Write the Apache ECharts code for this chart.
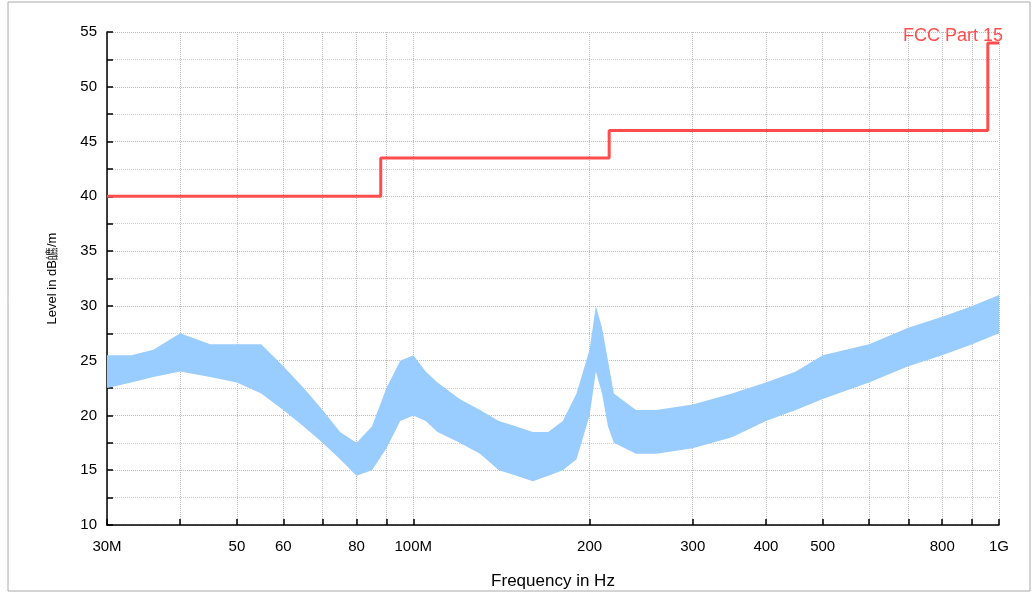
<!DOCTYPE html>
<html><head><meta charset="utf-8">
<script src="https://cdn.jsdelivr.net/npm/echarts@6/dist/echarts.min.js"></script>
<style>html,body{margin:0;padding:0;background:#fff}#c{width:1032px;height:595px}</style>
</head><body><div id="c"></div>
<script>
// trace envelope (MHz, low dB, high dB)
const freqs = [30,33,36,40,45,50,55,60,65,70,75,80,85,90,95,100,105,110,120,130,140,150,160,170,180,190,200,205,210,215,220,240,260,300,350,400,450,500,600,700,800,900,1000];
const lows  = [22.5,23,23.5,24,23.5,23,22,20.5,19,17.5,16,14.5,15,17,19.5,20,19.5,18.5,17.5,16.5,15,14.5,14,14.5,15,16,20,24,22,19,17.5,16.5,16.5,17,18,19.5,20.5,21.5,23,24.5,25.5,26.5,27.5];
const highs = [25.5,25.5,26,27.5,26.5,26.5,26.5,24.5,22.5,20.5,18.5,17.5,19,22.5,25,25.5,24,23,21.5,20.5,19.5,19,18.5,18.5,19.5,22,26,30,28,25,22,20.5,20.5,21,22,23,24,25.5,26.5,28,29,30,31];
// FCC Part 15 limit steps
const limitFreqs = [30,88,216,957,1000];
const limitLevels = [40,43.5,46,54,54];
const tickFreqs = [30,40,50,60,70,80,90,100,200,300,400,500,600,700,800,900,1000];
const labelFreqs = [30,50,60,80,100,200,300,400,500,800,1000];

const M = 1e6;
const chart = echarts.init(document.getElementById('c'));
chart.setOption({
  animation: false,
  grid: {left: 107, right: 33, top: 32, bottom: 65},
  title: {text: 'FCC Part 15', right: 24, top: 22, textStyle: {color: '#ff4d4d', fontSize: 18, fontWeight: 'normal', fontFamily: 'Liberation Sans'}},
  graphic: [{type: 'rect', shape: {x: 8, y: 2, width: 1022, height: 589}, style: {fill: 'none', stroke: '#aaa', lineWidth: 1}, silent: true}],
  xAxis: {
    type: 'log', logBase: 10, min: 30 * M, max: 1000 * M,
    name: 'Frequency in Hz', nameLocation: 'middle', nameGap: 48,
    nameTextStyle: {fontSize: 17, color: '#000', fontFamily: 'Liberation Sans'},
    axisLine: {lineStyle: {color: '#000', width: 1.5}},
    axisTick: {customValues: tickFreqs.map(f => f * M), length: 6, inside: true, lineStyle: {color: '#000', width: 1.5}},
    axisLabel: {customValues: labelFreqs.map(f => f * M), color: '#000', fontSize: 15, fontFamily: 'Liberation Sans', margin: 14,
      formatter: v => { const f = Math.round(v / M); return f === 1000 ? '1G' : (f === 30 || f === 100) ? f + 'M' : String(f); }},
    splitLine: {show: true, lineStyle: {color: '#bbb', type: 'dotted'}}
  },
  yAxis: {
    type: 'value', min: 10, max: 55, interval: 5,
    name: 'Level in dB皫/m', nameLocation: 'middle', nameGap: 48,
    nameTextStyle: {fontSize: 13, color: '#000', fontFamily: 'Liberation Sans'},
    axisLine: {show: true, lineStyle: {color: '#000', width: 1.5}},
    axisTick: {show: true, inside: true, length: 6, lineStyle: {color: '#000', width: 1.5}},
    minorTick: {show: true, splitNumber: 2, length: 6, lineStyle: {color: '#000', width: 1.5}},
    axisLabel: {color: '#000', fontSize: 15, fontFamily: 'Liberation Sans', margin: 10},
    splitLine: {show: true, lineStyle: {color: '#bbb', type: 'dotted'}},
    minorSplitLine: {show: true, lineStyle: {color: '#ccc', type: 'dotted'}}
  },
  series: [
    {type: 'custom', data: [0], silent: true,
      renderItem: (params, api) => {
        const top = freqs.map((f, i) => api.coord([f * M, highs[i]]));
        const bot = freqs.map((f, i) => api.coord([f * M, lows[i]])).reverse();
        return {type: 'polygon', shape: {points: top.concat(bot)}, style: {fill: '#99ccff'}};
      }},
    {type: 'line', step: 'end', symbol: 'none', lineStyle: {color: '#ff4d4d', width: 3},
      data: limitFreqs.map((f, i) => [f * M, limitLevels[i]])}
  ]
});
</script></body></html>
